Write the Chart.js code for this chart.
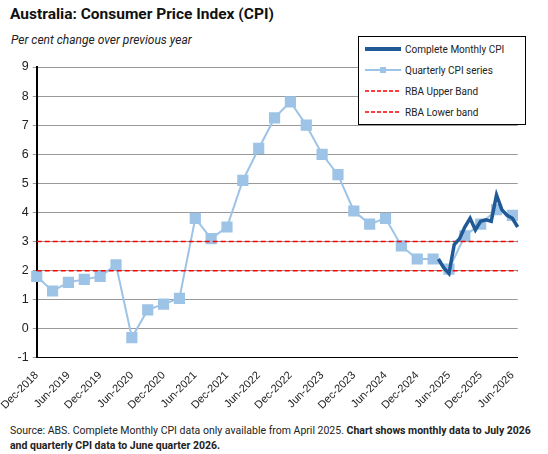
<!DOCTYPE html>
<html><head><meta charset="utf-8">
<script src="https://cdn.jsdelivr.net/npm/chart.js@4"></script>
<style>
body{margin:0;width:548px;height:454px;background:#fff;font-family:Roboto,"Liberation Sans",sans-serif;position:relative;overflow:hidden}
#t{position:absolute;left:10px;top:5px;font-size:15.5px;font-weight:bold;color:#111}
#s{position:absolute;left:11px;top:33px;font-size:12px;font-style:italic;color:#222}
#lg{position:absolute;left:358px;top:36px;width:166px;height:87px;border:1px solid #000;background:#fff;font-size:10px;color:#222}
.r{position:absolute;left:6px;height:14px;display:flex;align-items:center}
.r span{margin-left:4px}
#f{position:absolute;left:10px;top:423px;font-size:10.5px;color:#222;line-height:15px}
#w{position:absolute;left:0;top:55px;width:530px;height:360px}
</style></head><body>
<div id="t">Australia: Consumer Price Index (CPI)</div>
<div id="s">Per cent change over previous year</div>
<div id="w"><canvas id="c"></canvas></div>
<div id="lg">
<div class="r" style="top:5px"><svg width="36" height="6"><line x1="0" y1="3" x2="36" y2="3" stroke="#1f5a96" stroke-width="4"/></svg><span>Complete Monthly CPI</span></div>
<div class="r" style="top:26px"><svg width="36" height="8"><line x1="0" y1="4" x2="36" y2="4" stroke="#9dc3e6" stroke-width="2"/><rect x="15" y="1" width="6" height="6" fill="#9dc3e6"/></svg><span>Quarterly CPI series</span></div>
<div class="r" style="top:47px"><svg width="36" height="4"><line x1="0" y1="2" x2="36" y2="2" stroke="#f00" stroke-width="1.5" stroke-dasharray="4,2"/></svg><span>RBA Upper Band</span></div>
<div class="r" style="top:68px"><svg width="36" height="4"><line x1="0" y1="2" x2="36" y2="2" stroke="#f00" stroke-width="1.5" stroke-dasharray="4,2"/></svg><span>RBA Lower band</span></div>
</div>
<div id="f">Source: ABS. Complete Monthly CPI data only available from April 2025. <b>Chart shows monthly data to July 2026 and quarterly CPI data to June quarter 2026.</b></div>
<script>
const monthNames=["Jan","Feb","Mar","Apr","May","Jun","Jul","Aug","Sep","Oct","Nov","Dec"];
const quarterlyCPI=[1.8,1.3,1.6,1.7,1.8,2.2,-0.3,0.65,0.85,1.05,3.8,3.1,3.5,5.1,6.2,7.25,7.8,7.0,6.0,5.3,4.05,3.6,3.8,2.85,2.4,2.4,2.05,3.2,3.6,4.1,3.9];
const monthlyCPI=[2.4,2.1,1.9,2.9,3.1,3.5,3.8,3.4,3.7,3.75,3.7,4.6,4.1,3.9,3.8,3.5];
const rbaUpper=3, rbaLower=2;
const labels=[];
for(let i=0;i<92;i++){const m=(11+i)%12;const y=2018+Math.floor((11+i)/12);labels.push(monthNames[m]+"-"+y);}
const q=labels.map((l,i)=>i%3===0?quarterlyCPI[i/3]:null);
const mStart=labels.indexOf("Apr-2025");
const mo=labels.map((l,i)=>i>=mStart&&i-mStart<monthlyCPI.length?monthlyCPI[i-mStart]:null);
new Chart(document.getElementById('c'),{type:'line',
data:{labels,datasets:[
{data:labels.map(()=>rbaUpper),borderColor:'#f00',borderWidth:1.5,borderDash:[5,3],pointRadius:0},
{data:labels.map(()=>rbaLower),borderColor:'#f00',borderWidth:1.5,borderDash:[5,3],pointRadius:0},
{data:q,spanGaps:true,borderColor:'#9dc3e6',borderWidth:2,pointStyle:'rect',pointRadius:6.5,pointBackgroundColor:'#9dc3e6',pointBorderColor:'#9dc3e6'},
{data:mo,borderColor:'#1f5a96',borderWidth:3.5,pointRadius:0,order:-1}
]},
options:{responsive:true,maintainAspectRatio:false,animation:false,
layout:{padding:{left:8,top:12,right:0}},
plugins:{legend:{display:false},tooltip:{enabled:false}},
scales:{
x:{offset:false,grid:{display:false},border:{color:'#000'},
ticks:{autoSkip:false,maxRotation:45,minRotation:45,color:'#222',font:{size:11},callback:(v,i)=>i%6===0?labels[i]:''}},
y:{min:-1,max:9,grid:{color:'#999',drawTicks:true,tickLength:4},border:{color:'#000',width:2},
ticks:{stepSize:1,color:'#222',font:{size:12.5},padding:4}}
}}});
</script></body></html>
